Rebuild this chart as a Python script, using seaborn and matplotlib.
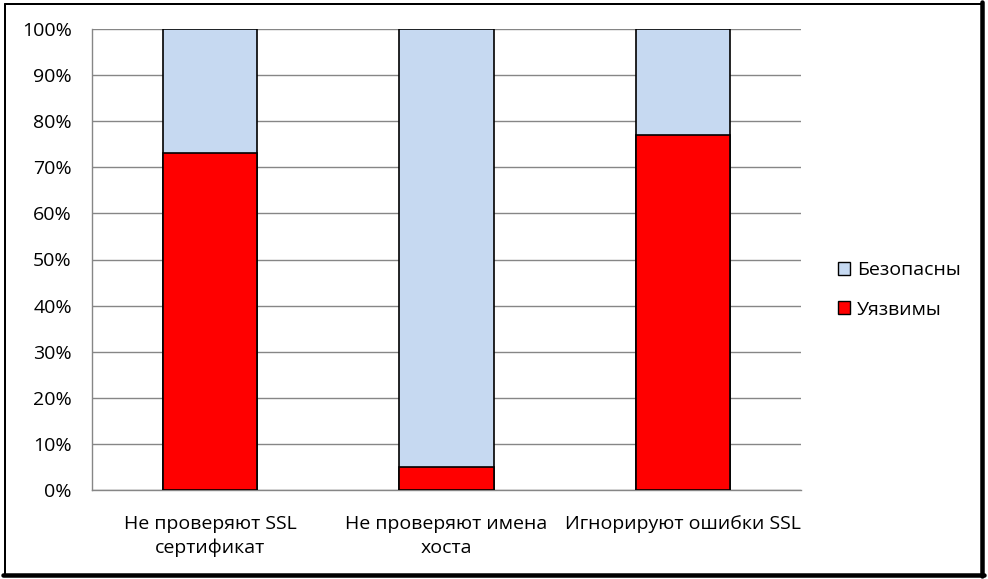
import matplotlib
matplotlib.use("Agg")
import matplotlib.pyplot as plt
import seaborn as sns
import pandas as pd
from matplotlib.patches import Patch
from matplotlib.lines import Line2D
from matplotlib.ticker import PercentFormatter, FixedLocator

# data
categories = ["Не проверяют SSL\nсертификат", "Не проверяют имена\nхоста", "Игнорируют ошибки SSL"]
vulnerable = [73, 5, 77]
safe = [27, 95, 23]

sns.set_style("white")
plt.rcParams['font.family'] = ['Open Sans', 'DejaVu Sans']

df = pd.DataFrame({"cat": categories, "vuln": vulnerable, "safe": safe})
df["total"] = df["vuln"] + df["safe"]

fig = plt.figure(figsize=(9.88, 5.79), dpi=100)
ax = fig.add_axes([92/988, 89/579, 709/988, 461/579])

sns.barplot(data=df, x="cat", y="total", color="#c6d9f1", edgecolor="black",
            linewidth=1.2, width=0.4, saturation=1, ax=ax, zorder=3)
sns.barplot(data=df, x="cat", y="vuln", color="#ff0000", edgecolor="black",
            linewidth=1.2, width=0.4, saturation=1, ax=ax, zorder=3)

ax.set_ylim(0, 100)
ax.set_xlim(-0.5, 2.5)
ax.set_yticks(range(0, 101, 10))
ax.yaxis.set_major_formatter(PercentFormatter(decimals=0))
ax.grid(axis="y", color="#868686", linewidth=1, zorder=0)
ax.set_axisbelow(True)
ax.set_xlabel("")
ax.set_ylabel("")
for s in ["top", "right"]:
    ax.spines[s].set_visible(False)
for s in ["left", "bottom"]:
    ax.spines[s].set_color("#868686")
    ax.spines[s].set_linewidth(1)
ax.tick_params(axis="y", length=6.5, color="#868686", labelsize=14, pad=8, labelcolor="black")
ax.tick_params(axis="x", which="major", length=0, labelsize=14, pad=18, labelcolor="black")
for lbl in ax.get_xticklabels():
    lbl.set_linespacing(1.4)
ax.xaxis.set_minor_locator(FixedLocator([-0.5, 0.5, 1.5, 2.5]))
ax.tick_params(axis="x", which="minor", length=7, color="#868686")

handles = [Patch(facecolor="#c6d9f1", edgecolor="black", label="Безопасны"),
           Patch(facecolor="#ff0000", edgecolor="black", label="Уязвимы")]
fig.legend(handles=handles, loc="center left", bbox_to_anchor=(820/988, 1 - 290/579),
           frameon=False, fontsize=14, handlelength=0.65, handleheight=0.65,
           handletextpad=0.35, labelspacing=1.1, labelcolor="black")

# outer frame: thin top/left, heavy right/bottom (shadow look)
W, H = 988, 579
frame = [((5, 5), (4, 575), 2), ((5, 982), (4, 4), 2),
         ((982, 982), (2, 576), 4.5), ((3, 984), (575, 575), 4.5)]
for xs, ys, lw in frame:
    fig.add_artist(Line2D([x / W for x in xs], [1 - y / H for y in ys],
                          transform=fig.transFigure, color="black", linewidth=lw * 0.72))

fig.savefig("out.png", dpi=100)
